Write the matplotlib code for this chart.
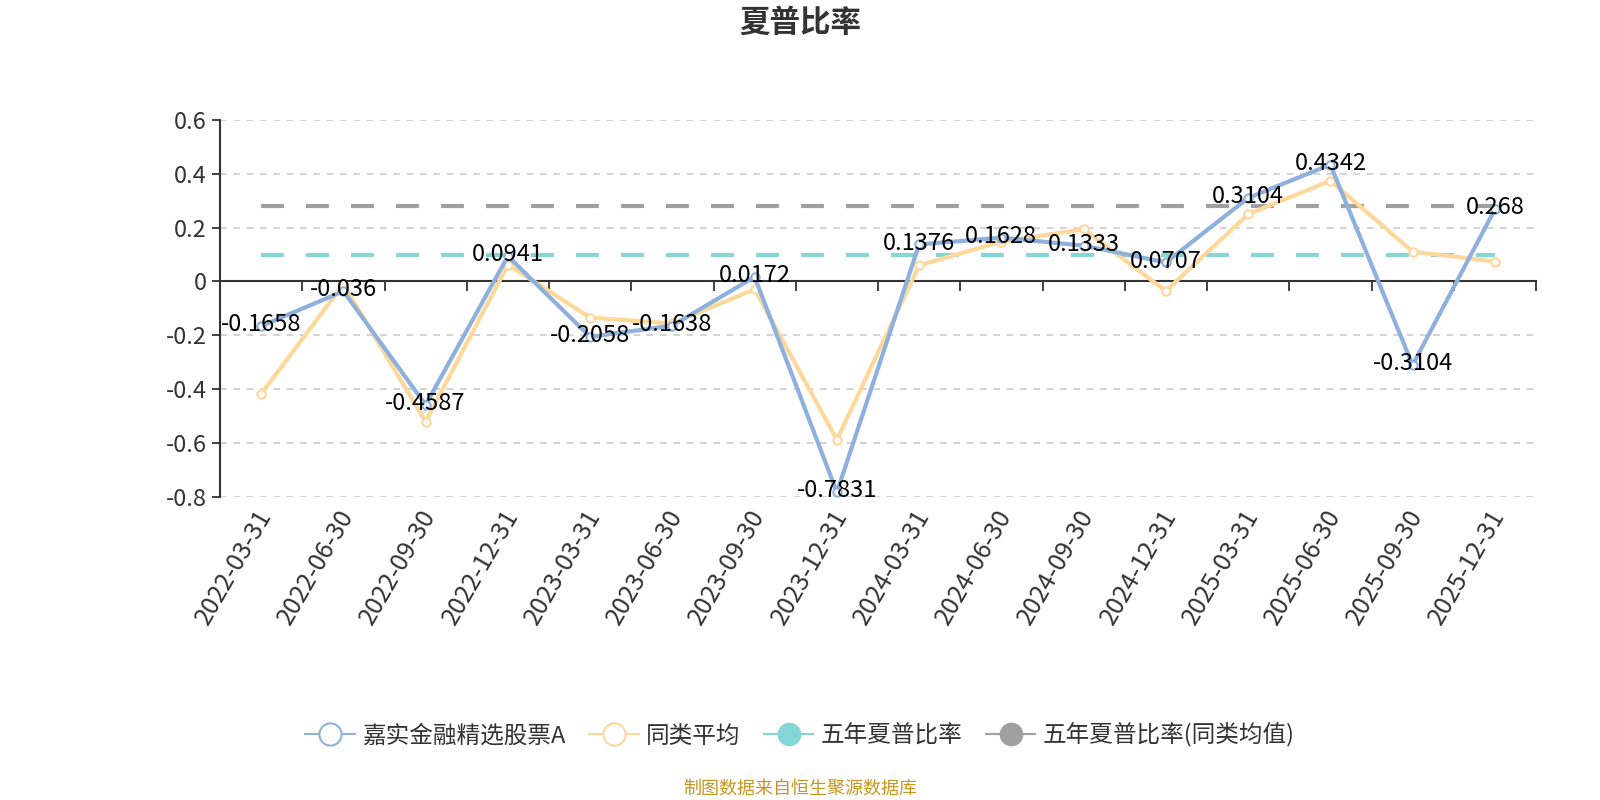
import matplotlib
matplotlib.use("Agg")
from matplotlib import pyplot as plt
from matplotlib.lines import Line2D

plt.rcParams['font.family'] = ['Noto Sans CJK SC', 'DejaVu Sans']

dates = ["2022-03-31", "2022-06-30", "2022-09-30", "2022-12-31",
         "2023-03-31", "2023-06-30", "2023-09-30", "2023-12-31",
         "2024-03-31", "2024-06-30", "2024-09-30", "2024-12-31",
         "2025-03-31", "2025-06-30", "2025-09-30", "2025-12-31"]
fund = [-0.1658, -0.036, -0.4587, 0.0941, -0.2058, -0.1638, 0.0172, -0.7831,
        0.1376, 0.1628, 0.1333, 0.0707, 0.3104, 0.4342, -0.3104, 0.268]
peer_avg = [-0.418, -0.01, -0.521, 0.062, -0.134, -0.156, -0.029, -0.588,
            0.06, 0.148, 0.194, -0.035, 0.25, 0.374, 0.111, 0.074]
five_year = 0.1
five_year_peer = 0.28
legend_names = ["嘉实金融精选股票A", "同类平均", "五年夏普比率", "五年夏普比率(同类均值)"]

BLUE = "#8eb0dd"
YELLOW = "#fdd89a"
TEAL = "#85d6d6"
GRAY = "#a0a0a0"
TXT = "#333333"

fig = plt.figure(figsize=(16, 8), dpi=100)
ax = fig.add_axes([0.1375, 0.379, 0.8225, 0.471])

x = list(range(len(dates)))
ax.plot(x, [five_year] * len(x), color=TEAL, lw=3, dashes=(5.5, 5.3), zorder=2)
ax.plot(x, [five_year_peer] * len(x), color=GRAY, lw=3, dashes=(5.5, 5.3), zorder=2)
ax.plot(x, peer_avg, color=YELLOW, lw=3, marker="o", ms=6, mfc="white",
        mec=YELLOW, mew=1.5, zorder=3)
ax.plot(x, fund, color=BLUE, lw=3, marker="o", ms=6, mfc="white",
        mec=BLUE, mew=1.5, zorder=4)

for xi, v in zip(x, fund):
    ax.annotate(f"{v:g}", (xi, v), xytext=(0, 1), textcoords="offset points",
                ha="center", va="center", fontsize=17, color="black", zorder=5)

ax.set_xlim(-0.5, len(dates) - 0.5)
ax.set_ylim(-0.8, 0.6)
ax.set_yticks([-0.8, -0.6, -0.4, -0.2, 0, 0.2, 0.4, 0.6])
ax.set_yticklabels(["-0.8", "-0.6", "-0.4", "-0.2", "0", "0.2", "0.4", "0.6"])
ax.yaxis.grid(True, color="#cccccc", linestyle=(0, (4, 4)), lw=1.2)
ax.set_axisbelow(True)

ax.spines["top"].set_visible(False)
ax.spines["right"].set_visible(False)
ax.spines["bottom"].set_position(("data", 0))
ax.spines["bottom"].set_color(TXT)
ax.spines["left"].set_color(TXT)
ax.spines["bottom"].set_linewidth(1.5)
ax.spines["left"].set_linewidth(1.5)

# ticks sit on category boundaries, labels go below the plot area
ax.set_xticks([i - 0.5 for i in range(len(dates) + 1)])
ax.set_xticklabels([])
ax.tick_params(axis="x", length=7, width=1.3, color=TXT)
for xi in x:
    ax.text(xi - 0.08, -0.83, dates[xi], rotation=60, ha="right", va="top",
            rotation_mode="anchor", fontsize=18, color=TXT)
ax.tick_params(axis="y", length=6, width=1.3, color=TXT, labelsize=17,
               labelcolor=TXT)

fig.text(0.5, 0.972, "夏普比率", ha="center", va="center", fontsize=22,
         fontweight="bold", color=TXT)

handles = [
    Line2D([], [], color=BLUE, lw=1.5, marker="o", ms=16, mfc="white", mec=BLUE, mew=1.5),
    Line2D([], [], color=YELLOW, lw=1.5, marker="o", ms=16, mfc="white", mec=YELLOW, mew=1.5),
    Line2D([], [], color=TEAL, lw=1.5, marker="o", ms=16, mfc=TEAL, mec=TEAL),
    Line2D([], [], color=GRAY, lw=1.5, marker="o", ms=16, mfc=GRAY, mec=GRAY),
]
fig.legend(handles, legend_names, loc="center", bbox_to_anchor=(0.5, 0.081),
           ncol=4, frameon=False, fontsize=17, handlelength=2.1,
           columnspacing=1.0, handletextpad=0.3, labelcolor=TXT)

fig.text(0.5, 0.014, "制图数据来自恒生聚源数据库", ha="center", va="center",
         fontsize=13, color="#c8961e")

fig.savefig("out.png", dpi=100)
